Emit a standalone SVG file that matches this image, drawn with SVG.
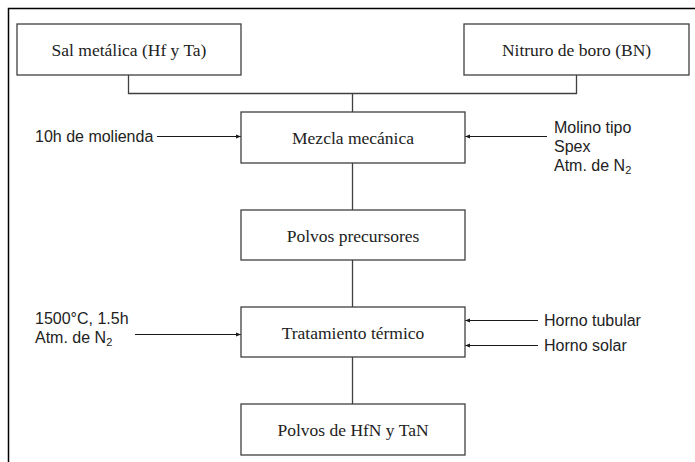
<svg xmlns="http://www.w3.org/2000/svg" width="695" height="462" viewBox="0 0 695 462">
<defs>
<style>
.box{fill:#fff;stroke:#404040;stroke-width:1.3}
.lbl{font-family:"Liberation Serif","Times New Roman",serif;font-size:17.5px;fill:#222;text-anchor:middle}
.side{font-family:"Liberation Sans",Arial,sans-serif;font-size:16px;fill:#222}
.ln{fill:none;stroke:#404040;stroke-width:1.3}
.arr{fill:none;stroke:#1a1a1a;stroke-width:1.1;marker-end:url(#ah)}
</style>
<marker id="ah" viewBox="0 0 10 10" refX="10" refY="5" markerWidth="5" markerHeight="5" markerUnits="userSpaceOnUse" orient="auto">
<path d="M0,1 L10,5 L0,9 z" fill="#1a1a1a"/>
</marker>
</defs>
<rect width="695" height="462" fill="#fff"/>
<path d="M8.5,470 V8.5 H700" fill="none" stroke="#000" stroke-width="1.5"/>
<g id="connectors">
<path class="ln" d="M128.5,75 V93.5 H576.5 V75"/>
<path class="ln" d="M352.5,93.5 V112"/>
<path class="ln" d="M352.5,163 V210"/>
<path class="ln" d="M352.5,260 V307"/>
<path class="ln" d="M352.5,357 V404"/>
<path class="arr" d="M157,136.5 H241"/>
<path class="arr" d="M547,136.5 H465"/>
<path class="arr" d="M135,334.5 H241"/>
<path class="arr" d="M538,320.5 H465"/>
<path class="arr" d="M538,345.5 H465"/>
</g>
<g id="sal"><rect class="box" x="17" y="24" width="224" height="51"/><text class="lbl" x="129" y="55.5">Sal metálica (Hf y Ta)</text></g>
<g id="nitruro"><rect class="box" x="464" y="24" width="225" height="51"/><text class="lbl" x="576.5" y="55.5">Nitruro de boro (BN)</text></g>
<g id="mezcla"><rect class="box" x="241" y="112" width="224" height="51"/><text class="lbl" x="353" y="143.5">Mezcla mecánica</text></g>
<g id="precursores"><rect class="box" x="241" y="210" width="224" height="50"/><text class="lbl" x="353" y="241.5">Polvos precursores</text></g>
<g id="tratamiento"><rect class="box" x="241" y="307" width="224" height="50"/><text class="lbl" x="353" y="338.5">Tratamiento térmico</text></g>
<g id="final"><rect class="box" x="241" y="404" width="224" height="51"/><text class="lbl" x="353" y="435.5">Polvos de HfN y TaN</text></g>
<g id="notes">
<text class="side" x="35" y="142">10h de molienda</text>
<text class="side" x="554" y="133">Molino tipo</text>
<text class="side" x="554" y="152">Spex</text>
<text class="side" x="554" y="171">Atm. de N<tspan font-size="11" dy="3">2</tspan></text>
<text class="side" x="35" y="324">1500°C, 1.5h</text>
<text class="side" x="35" y="343">Atm. de N<tspan font-size="11" dy="3">2</tspan></text>
<text class="side" x="544" y="326">Horno tubular</text>
<text class="side" x="544" y="351">Horno solar</text>
</g>
</svg>
